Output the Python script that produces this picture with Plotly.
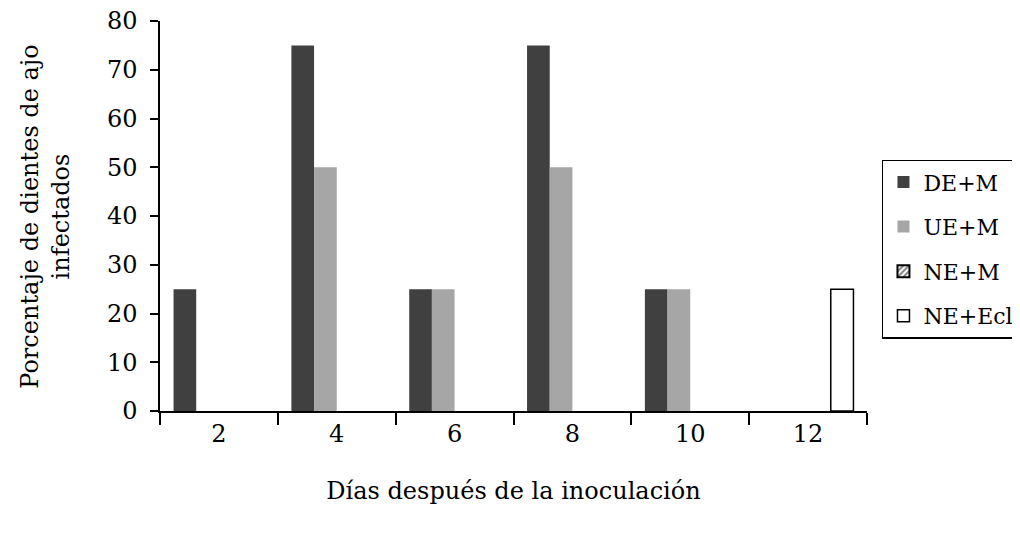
import plotly.graph_objects as go

categories = ["2", "4", "6", "8", "10", "12"]
de_m = [25, 75, 25, 75, 25, 0]
ue_m = [0, 50, 25, 50, 25, 0]
ne_m = [0, 0, 0, 0, 0, 0]
ne_ecl = [0, 0, 0, 0, 0, 25]

x_title = "Días después de la inoculación"
y_title = "Porcentaje de dientes de ajo<br>infectados"

FONT = "DejaVu Serif"
FS = 24


def drop_zero(vals):
    # zero-height outlined bars would draw a stray line on the axis
    return [v if v else None for v in vals]


fig = go.Figure()
fig.add_trace(go.Bar(x=categories, y=de_m, name="DE+M", legendgroup="a",
                     marker=dict(color="#404040", line=dict(width=0))))
fig.add_trace(go.Bar(x=categories, y=ue_m, name="UE+M", legendgroup="b",
                     marker=dict(color="#a6a6a6", line=dict(width=0))))
fig.add_trace(go.Bar(x=categories, y=drop_zero(ne_m), name="NE+M", legendgroup="c",
                     marker=dict(color="white", line=dict(width=2, color="black"),
                                 pattern=dict(shape="/", fgcolor="black", bgcolor="white",
                                              size=5, solidity=0.5))))
fig.add_trace(go.Bar(x=categories, y=drop_zero(ne_ecl), name="NE+Ecl", legendgroup="d",
                     marker=dict(color="white", line=dict(width=1.5, color="black"))))

fig.update_layout(
    width=1012, height=525,
    margin=dict(l=152, r=153, t=13, b=122, autoexpand=False),
    paper_bgcolor="white", plot_bgcolor="white",
    font=dict(family=FONT, size=FS, color="black"),
    barmode="group", bargap=0.23, bargroupgap=0,
    showlegend=True,
    legend=dict(xref="container", yref="container",
                x=0.8636, y=0.5407, xanchor="left", yanchor="middle",
                bordercolor="black", borderwidth=1.5, bgcolor="white",
                font=dict(family=FONT, size=22), tracegroupgap=13,
                traceorder="grouped"),
    xaxis=dict(type="category", showline=True, linecolor="black", linewidth=1.5,
               ticks="outside", tickson="boundaries", ticklen=12, tickwidth=1.5,
               tickcolor="black", showgrid=False, zeroline=False, automargin=False,
               tickfont=dict(family=FONT, size=FS),
               title=dict(text=x_title, standoff=36,
                          font=dict(family=FONT, size=FS))),
    yaxis=dict(range=[0, 80], dtick=10, showline=True, linecolor="black", linewidth=1.5,
               ticks="outside", ticklen=8, tickwidth=1.5, tickcolor="black",
               ticklabelstandoff=8, ticklabeloverflow="allow", automargin=False,
               showgrid=False, zeroline=False,
               tickfont=dict(family=FONT, size=FS)),
    annotations=[dict(text=y_title, xref="paper", yref="paper",
                      x=-0.163, y=0.5, xanchor="center", yanchor="middle",
                      textangle=-90, showarrow=False,
                      font=dict(family=FONT, size=FS))],
)

fig.write_html("out.html")
